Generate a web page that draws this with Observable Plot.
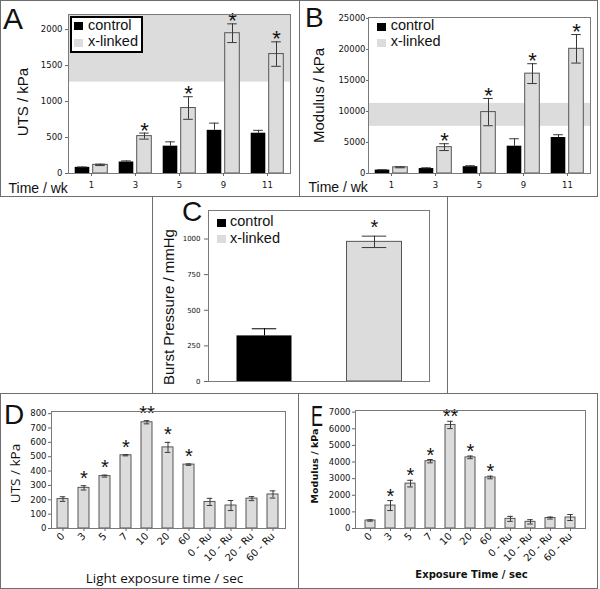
<!DOCTYPE html>
<html><head><meta charset="utf-8">
<script src="https://cdn.jsdelivr.net/npm/d3@7"></script>
<script src="https://cdn.jsdelivr.net/npm/@observablehq/plot@0.6"></script>
<style>
body{margin:0;background:#fff;}
#fig{position:relative;width:600px;height:589px;overflow:hidden;font-family:"Liberation Sans",Arial,sans-serif;color:#111;}
.box{position:absolute;border:1px solid #6e6e6e;box-sizing:border-box;}
.lbl{position:absolute;line-height:1;white-space:nowrap;}
.sw{position:absolute;}
svg{position:absolute;overflow:visible;}
</style></head><body><div id="fig"></div><script>
// ---------- data ----------
const seriesNames = ["control", "x-linked"];
const panelLetters = ["A", "B", "C", "D", "E"];
const weeks = ["1", "3", "5", "9", "11"];
const weekSig = ["", "*", "*", "*", "*"];
// Panel A: UTS / kPa
const utsControl = [85, 160, 380, 600, 560];
const utsControlErr = [6, 15, 60, 100, 40];
const utsXlinked = [120, 520, 910, 1950, 1660];
const utsXlinkedErr = [10, 42, 157, 130, 170];
const utsBand = [1270, 2210];
// Panel B: Modulus / kPa
const modControl = [550, 800, 1100, 4400, 5800];
const modControlErr = [60, 120, 150, 1200, 450];
const modXlinked = [1000, 4250, 9900, 16100, 20100];
const modXlinkedErr = [80, 550, 2200, 1600, 2300];
const modBand = [7600, 11300];
// Panel C: Burst pressure / mmHg
const burstValues = [320, 980];
const burstErr = [50, 40];
const burstSig = ["", "*"];
// Panels D, E: exposure time
const exposureLabels = ["0", "3", "5", "7", "10", "20", "60", "0 - Ru", "10 - Ru", "20 - Ru", "60 - Ru"];
const exposureSig = ["", "*", "*", "*", "**", "*", "*", "", "", "", ""];
const utsExposure = [205, 283, 365, 510, 740, 565, 445, 185, 160, 208, 237];
const utsExposureErr = [16, 15, 7, 4, 11, 35, 5, 25, 35, 14, 25];
const modExposure = [480, 1380, 2700, 4050, 6230, 4280, 3070, 580, 400, 630, 660];
const modExposureErr = [40, 300, 200, 100, 220, 80, 80, 150, 130, 60, 180];

// ---------- helpers ----------
const fig = document.getElementById("fig");
function place(svg, x, y) { svg.style.left = x + "px"; svg.style.top = y + "px"; fig.appendChild(svg); }
function box(x, y, w, h) { const d = document.createElement("div"); d.className = "box"; Object.assign(d.style, {left: x + "px", top: y + "px", width: w + "px", height: h + "px"}); fig.appendChild(d); return d; }
function htext(str, x, baseline, size, extra = {}) {
  const d = document.createElement("div"); d.className = "lbl"; d.textContent = str;
  Object.assign(d.style, {left: x + "px", top: (baseline - size * 0.8465) + "px", fontSize: size + "px"}, extra);
  fig.appendChild(d); return d;
}
function swatch(x, y, w, h, color) { const d = document.createElement("div"); d.className = "sw"; Object.assign(d.style, {left: x + "px", top: y + "px", width: w + "px", height: h + "px", background: color}); fig.appendChild(d); }
const baseStyle = {background: "transparent", fontFamily: "DejaVu Sans", fontSize: "8.5px", color: "#111", overflow: "visible"};
const CTRL = "#000", XL = "#dcdcdc", EDGE = "#555", ERR = "#383838", FRAME = "#7a7a7a";

// ---------- panels A & B ----------
function grouped(cfg) {
  const {width, height, ml, mr, mt, mb, yMax, yTicks, ctrl, ctrlErr, xl, xlErr, band, yLabel, lx, ly, tickSize, tickPadding, tx, ty} = cfg;
  const step = (width - ml - mr) / weeks.length;
  const half = step / 2, barW = 15, gap = 3, off = gap / 2 + barW / 2, capW = 10;
  const capInset = half - capW / 2;
  const cRows = weeks.map((w, i) => ({week: w, v: ctrl[i], e: ctrlErr[i]}));
  const xRows = weeks.map((w, i) => ({week: w, v: xl[i], e: xlErr[i], s: weekSig[i]}));
  return Plot.plot({
    width, height, marginLeft: ml, marginRight: mr, marginTop: mt, marginBottom: mb,
    style: baseStyle,
    x: {type: "band", domain: weeks, padding: 0},
    y: {domain: [0, yMax]},
    marks: [
      Plot.rect([band], {y1: d => d[0], y2: d => d[1], fill: XL}),
      Plot.barY(cRows, {x: "week", y: "v", fill: CTRL, insetLeft: half - off - barW / 2, insetRight: half + off - barW / 2}),
      Plot.barY(xRows, {x: "week", y: "v", fill: XL, stroke: EDGE, insetLeft: half + off - barW / 2, insetRight: half - off - barW / 2}),
      Plot.ruleX(cRows, {x: "week", y1: "v", y2: d => d.v + d.e, dx: -off, stroke: ERR}),
      Plot.tickY(cRows, {x: "week", y: d => d.v + d.e, dx: -off, insetLeft: capInset, insetRight: capInset, stroke: ERR}),
      Plot.ruleX(xRows, {x: "week", y1: d => d.v - d.e, y2: d => d.v + d.e, dx: off, stroke: ERR}),
      Plot.tickY(xRows, {x: "week", y: d => d.v - d.e, dx: off, insetLeft: capInset, insetRight: capInset, stroke: ERR}),
      Plot.tickY(xRows, {x: "week", y: d => d.v + d.e, dx: off, insetLeft: capInset, insetRight: capInset, stroke: ERR}),
      Plot.text(xRows.filter(d => d.s), {x: "week", y: d => d.v + d.e, text: "s", dx: off, dy: 4.5, lineAnchor: "bottom", fontSize: 22, fontFamily: "Liberation Sans"}),
      Plot.frame({stroke: FRAME}),
      Plot.axisX({tickSize: 3, tickPadding: 5, label: null, stroke: "#666"}),
      Plot.axisY({ticks: yTicks, tickFormat: "d", tickSize, tickPadding, label: null, stroke: "#666"}),
      Plot.text([yLabel], {text: d => d, frameAnchor: "left", textAnchor: "middle", lineAnchor: "middle", rotate: -90, dx: lx, dy: ly, fontSize: 15, fontFamily: "Liberation Sans"}),
      Plot.text(["Time / wk"], {text: d => d, frameAnchor: "bottom-left", textAnchor: "start", lineAnchor: "bottom", dx: tx, dy: ty, fontSize: 14, fontFamily: "Liberation Sans"})
    ]
  });
}

// boxes
box(0, 0, 300, 197);
box(299, 0, 299, 197);
box(152, 196, 296, 198);
box(0, 393, 299, 196);
box(298, 393, 300, 196);

place(grouped({width: 300, height: 197, ml: 68, mr: 10, mt: 14, mb: 24, yMax: utsBand[1], yTicks: [0, 500, 1000, 1500, 2000],
  ctrl: utsControl, ctrlErr: utsControlErr, xl: utsXlinked, xlErr: utsXlinkedErr, band: utsBand,
  yLabel: "UTS / kPa", lx: -45, ly: 8, tickSize: 3, tickPadding: 3, tx: -60, ty: 19.5}), 0, 0);

place(grouped({width: 300, height: 197, ml: 68, mr: 10, mt: 17, mb: 24, yMax: 25150, yTicks: [0, 5000, 10000, 15000, 20000, 25000],
  ctrl: modControl, ctrlErr: modControlErr, xl: modXlinked, xlErr: modXlinkedErr, band: modBand,
  yLabel: "Modulus / kPa", lx: -49.5, ly: 0, tickSize: 2, tickPadding: 1, tx: -60, ty: 18.7}), 300, 0);

// ---------- panel C ----------
{
  const width = 295, height = 197, ml = 56, mr = 18, mt = 14, mb = 12;
  const step = (width - ml - mr) / seriesNames.length;
  const capInset = (step - 25) / 2;
  const barInset = 27.5;
  const rows = seriesNames.map((g, i) => ({g, v: burstValues[i], e: burstErr[i], s: burstSig[i]}));
  const ctrl = rows.filter(d => d.g === seriesNames[0]);
  const xl = rows.filter(d => d.g === seriesNames[1]);
  const svg = Plot.plot({
    width, height, marginLeft: ml, marginRight: mr, marginTop: mt, marginBottom: mb,
    style: {...baseStyle, fontSize: "7px"},
    x: {type: "band", domain: seriesNames, padding: 0, axis: null},
    y: {domain: [0, 1200]},
    marks: [
      Plot.barY(ctrl, {x: "g", y: "v", fill: CTRL, insetLeft: barInset, insetRight: barInset}),
      Plot.barY(xl, {x: "g", y: "v", fill: XL, stroke: EDGE, insetLeft: barInset, insetRight: barInset}),
      Plot.ruleX(ctrl, {x: "g", y1: "v", y2: d => d.v + d.e, stroke: "#000"}),
      Plot.tickY(ctrl, {x: "g", y: d => d.v + d.e, insetLeft: capInset, insetRight: capInset, stroke: "#000"}),
      Plot.ruleX(xl, {x: "g", y1: d => d.v - d.e, y2: d => d.v + d.e, stroke: ERR}),
      Plot.tickY(xl, {x: "g", y: d => d.v - d.e, insetLeft: capInset, insetRight: capInset, stroke: ERR}),
      Plot.tickY(xl, {x: "g", y: d => d.v + d.e, insetLeft: capInset, insetRight: capInset, stroke: ERR}),
      Plot.text(rows.filter(d => d.s), {x: "g", y: d => d.v + d.e, text: "s", dy: -2, lineAnchor: "bottom", fontSize: 20, fontFamily: "Liberation Sans"}),
      Plot.frame({stroke: FRAME}),
      Plot.axisY({ticks: [0, 250, 500, 750, 1000], tickFormat: "d", tickSize: 4, tickPadding: 4, label: null, stroke: "#666"}),
      Plot.text(["Burst Pressure / mmHg"], {text: d => d, frameAnchor: "left", textAnchor: "middle", lineAnchor: "middle", rotate: -90, dx: -39.5, dy: 11, fontSize: 15, fontFamily: "Liberation Sans"})
    ]
  });
  place(svg, 152, 196);
}

// ---------- panels D & E ----------
function exposure(cfg) {
  const {width, height, ml, mr, mt, mb, yMax, yTicks, vals, errs, pi, po, starDy, yLabel, xLabel, font, weight, lsize, xsize, lx, ly, xdx, xdy} = cfg;
  const n = exposureLabels.length;
  const step = (width - ml - mr) / (n - pi + 2 * po);
  const bw = step * (1 - pi);
  const capInset = (bw - 6) / 2;
  const rows = exposureLabels.map((c, i) => ({c, v: vals[i], e: errs[i], s: exposureSig[i]}));
  return Plot.plot({
    width, height, marginLeft: ml, marginRight: mr, marginTop: mt, marginBottom: mb,
    style: baseStyle,
    x: {type: "band", domain: exposureLabels, paddingInner: pi, paddingOuter: po},
    y: {domain: [0, yMax]},
    marks: [
      Plot.barY(rows, {x: "c", y: "v", fill: XL, stroke: EDGE}),
      Plot.ruleX(rows, {x: "c", y1: d => d.v - d.e, y2: d => d.v + d.e, stroke: ERR}),
      Plot.tickY(rows, {x: "c", y: d => d.v - d.e, insetLeft: capInset, insetRight: capInset, stroke: ERR}),
      Plot.tickY(rows, {x: "c", y: d => d.v + d.e, insetLeft: capInset, insetRight: capInset, stroke: ERR}),
      Plot.text(rows.filter(d => d.s), {x: "c", y: d => d.v + d.e, text: "s", dy: starDy, lineAnchor: "bottom", fontSize: 20, fontFamily: "Liberation Sans", fill: "#111"}),
      Plot.frame({stroke: FRAME}),
      Plot.axisX({tickRotate: -45, tickSize: 3, tickPadding: 3, fontSize: 10, label: null, stroke: "#666"}),
      Plot.axisY({ticks: yTicks, tickFormat: "d", tickSize: 3, tickPadding: 2, label: null, stroke: "#666"}),
      Plot.text([yLabel], {text: d => d, frameAnchor: "left", textAnchor: "middle", lineAnchor: "middle", rotate: -90, dx: lx, dy: ly, fontSize: lsize, fontFamily: font, fontWeight: weight}),
      Plot.text([xLabel], {text: d => d, frameAnchor: "bottom", textAnchor: "middle", lineAnchor: "bottom", dx: xdx, dy: xdy, fontSize: xsize, fontFamily: font, fontWeight: weight})
    ]
  });
}

place(exposure({width: 298, height: 194, ml: 51, mr: 13, mt: 17, mb: 60, yMax: 815, yTicks: d3.range(0, 801, 100),
  vals: utsExposure, errs: utsExposureErr, pi: 0.46, po: 0.23, starDy: -1,
  yLabel: "UTS / kPa", xLabel: "Light exposure time / sec", font: "Open Sans", weight: "normal", lsize: 13.5, xsize: 13.5,
  lx: -36, ly: 3.5, xdx: -4, xdy: 54}), 0, 394);

place(exposure({width: 299, height: 194, ml: 57, mr: 12, mt: 16, mb: 60, yMax: 7100, yTicks: d3.range(0, 7001, 1000),
  vals: modExposure, errs: modExposureErr, pi: 0.5, po: 0.25, starDy: 2,
  yLabel: "Modulus / kPa", xLabel: "Exposure Time / sec", font: "DejaVu Sans", weight: "bold", lsize: 9.5, xsize: 10,
  lx: -41, ly: -3.5, xdx: 1, xdy: 49.5}), 298, 394);

// ---------- legends ----------
const legA = document.createElement("div");
Object.assign(legA.style, {position: "absolute", left: "70px", top: "16px", width: "73px", height: "37px", border: "2px solid #000", boxSizing: "border-box", background: "#fff"});
fig.appendChild(legA);
swatch(74, 21.5, 9, 8, CTRL); htext(seriesNames[0], 88, 30, 14.5);
swatch(74, 38.5, 9, 8, XL); htext(seriesNames[1], 88, 46.7, 14.5);
swatch(377, 22.5, 9, 8, CTRL); htext(seriesNames[0], 390.7, 30, 14.5);
swatch(377, 39.3, 9, 8, XL); htext(seriesNames[1], 390.7, 46.7, 14.5);
swatch(217, 218.5, 9, 8, CTRL); htext(seriesNames[0], 230, 226.7, 14.5);
swatch(217, 235.2, 9, 8, XL); htext(seriesNames[1], 230, 243.3, 14.5);

// ---------- panel letters ----------
htext(panelLetters[0], 3, 29.3, 30);
htext(panelLetters[1], 305, 27.3, 28);
htext(panelLetters[2], 182, 221.5, 28);
htext(panelLetters[3], 4, 425, 28);
htext(panelLetters[4], 311, 426.5, 30, {transform: "scaleX(0.6)", transformOrigin: "left"});
</script></body></html>
